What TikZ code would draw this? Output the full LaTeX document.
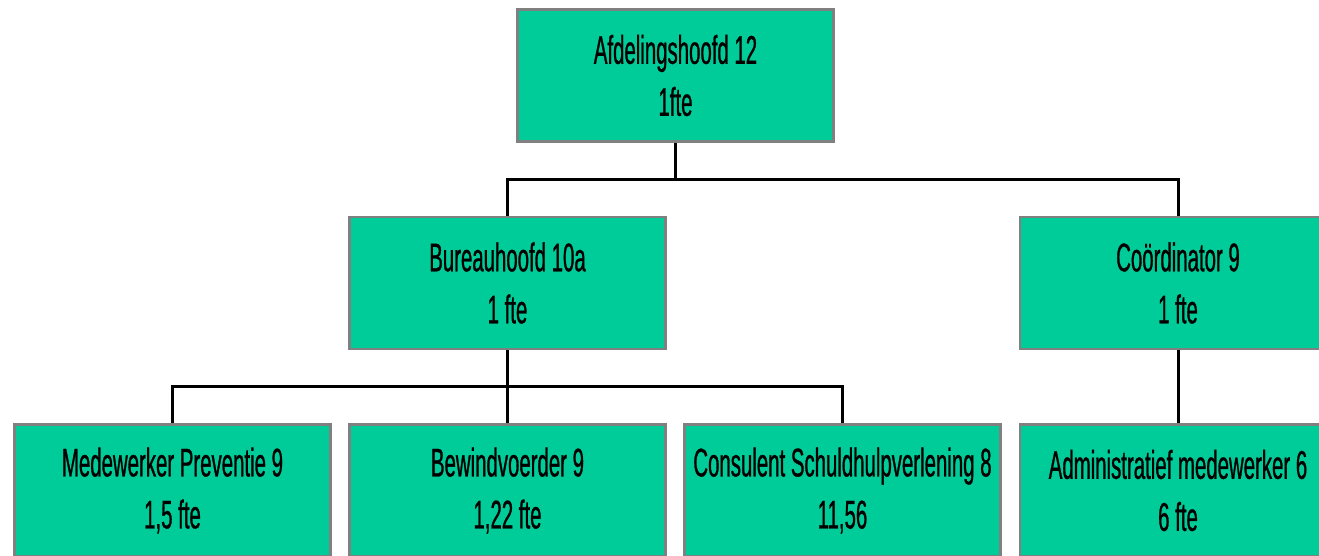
\documentclass[tikz,border=0pt]{standalone}
\usepackage{fontspec}
\setmainfont[FakeStretch=0.51,FakeBold=0.7]{Liberation Sans}
\definecolor{boxfill}{HTML}{00CC99}
\definecolor{boxline}{HTML}{808080}
\begin{document}
\begin{tikzpicture}[x=1pt,y=-1pt,
  orgbox/.style={draw=boxline, line width=2.5pt, fill=boxfill, rectangle,
    minimum width=316pt, minimum height=132pt, inner sep=0pt, align=center,
    font=\fontsize{40}{52}\selectfont, text=black},
  conn/.style={draw=black, line width=3pt}]
\useasboundingbox (0,0) rectangle (1319,555);
\clip (0,0) rectangle (1319,555);
\fill[white] (0,0) rectangle (1319,555);
\node[orgbox] (top) at (675.5,75.5) {Afdelingshoofd 12\\1fte};
\node[orgbox] (bur) at (507.5,283) {Bureauhoofd 10a\\1 fte};
\node[orgbox] (coo) at (1178,283) {Coördinator 9\\1 fte};
\node[orgbox] (mp) at (172.5,490.5) {Medewerker Preventie 9\\1,5 fte};
\node[orgbox] (bw) at (507.5,490.5) {Bewindvoerder 9\\1,22 fte};
\node[orgbox] (cs) at (842.5,490.5) {Consulent Schuldhulpverlening 8\\11,56};
\node[orgbox] (am) at (1178,490.5) {Administratief medewerker 6\\6 fte};
\coordinate (j1) at (675.5,179);
\coordinate (j2) at (507.5,386);
\draw[conn] (top.south) -- (j1);
\draw[conn] (j1) -| (bur.north);
\draw[conn] (j1) -| (coo.north);
\draw[conn] (bur.south) -- (j2);
\draw[conn] (j2) -| (mp.north);
\draw[conn] (j2) -- (bw.north);
\draw[conn] (j2) -| (cs.north);
\draw[conn] (coo.south) -- (am.north);
\end{tikzpicture}
\end{document}
